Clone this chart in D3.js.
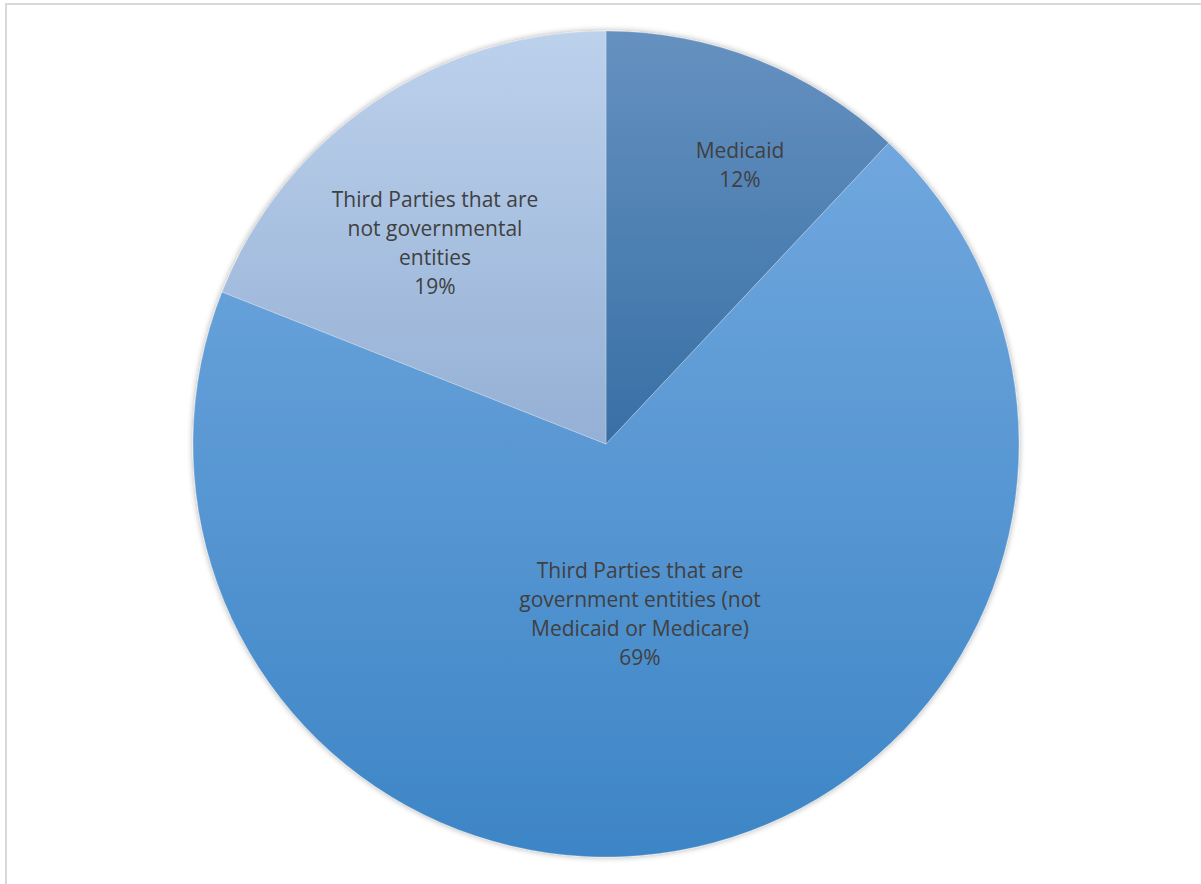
<!DOCTYPE html>
<html>
<head>
<meta charset="utf-8">
<script src="https://cdn.jsdelivr.net/npm/d3@7"></script>
<style>
  body { margin: 0; background: #fff; }
  svg { display: block; }
</style>
</head>
<body>
<div id="chart"></div>
<script>
// chart values
var labels = ['Medicaid', 'Third Parties that are government entities (not Medicaid or Medicare)', 'Third Parties that are not governmental entities'];
var values = [12, 69, 19];
var labelLines = [
  ['Medicaid', '12%'],
  ['Third Parties that are', 'government entities (not', 'Medicaid or Medicare)', '69%'],
  ['Third Parties that are', 'not governmental', 'entities', '19%']
];
var gradTop = ['#6591c0', '#70a7de', '#bcd1ec'];
var gradBottom = ['#386fa5', '#3d85c6', '#95b0d5'];
// label anchor (first line baseline) as offsets from the centre
var labelPos = [[134, -286], [34, 134], [-171, -237]];

var width = 1201, height = 884,
    cx = 606, cy = 444, radius = 413;

var svg = d3.select('#chart').append('svg')
  .attr('width', width)
  .attr('height', height);

var defs = svg.append('defs');

// soft shadow round the pie
var shadow = defs.append('filter')
  .attr('id', 'shadow')
  .attr('x', '-10%').attr('y', '-10%')
  .attr('width', '120%').attr('height', '120%');
shadow.append('feGaussianBlur').attr('in', 'SourceAlpha').attr('stdDeviation', 3);
shadow.append('feOffset').attr('dx', 0).attr('dy', 0).attr('result', 'blur');
shadow.append('feComponentTransfer').append('feFuncA').attr('type', 'linear').attr('slope', 0.35);
var merge = shadow.append('feMerge');
merge.append('feMergeNode');
merge.append('feMergeNode').attr('in', 'SourceGraphic');

values.forEach(function(v, i) {
  var g = defs.append('linearGradient')
    .attr('id', 'grad' + i)
    .attr('x1', 0).attr('y1', 0).attr('x2', 0).attr('y2', 1);
  g.append('stop').attr('offset', '0%').attr('stop-color', gradTop[i]);
  g.append('stop').attr('offset', '100%').attr('stop-color', gradBottom[i]);
});

// chart area frame
svg.append('rect')
  .attr('x', 6)
  .attr('y', 4)
  .attr('width', width + 20)
  .attr('height', height + 20)
  .attr('fill', '#fff')
  .attr('stroke', '#d9d9d9')
  .attr('stroke-width', 2);

var pie = d3.pie().sort(null).value(function(d) { return d; });
var arc = d3.arc().innerRadius(0).outerRadius(radius);

var g = svg.append('g')
  .attr('transform', 'translate(' + cx + ',' + cy + ')');

g.append('g')
  .attr('filter', 'url(#shadow)')
  .selectAll('path')
  .data(pie(values))
  .enter()
  .append('path')
  .attr('d', arc)
  .attr('fill', function(d, i) { return 'url(#grad' + i + ')'; })
  .attr('stroke', 'rgba(255,255,255,0.25)')
  .attr('stroke-width', 1);

var lineH = 29;
var texts = g.selectAll('text.label')
  .data(labelLines)
  .enter()
  .append('text')
  .attr('class', 'label')
  .attr('text-anchor', 'middle')
  .style('font-family', '"Open Sans", sans-serif')
  .style('font-size', '21px')
  .style('fill', '#404040')
  .attr('transform', function(d, i) {
    return 'translate(' + labelPos[i][0] + ',' + labelPos[i][1] + ')';
  });

texts.selectAll('tspan')
  .data(function(d) { return d; })
  .enter()
  .append('tspan')
  .attr('x', 0)
  .attr('y', function(d, j) { return j * lineH; })
  .text(function(d) { return d; });
</script>
</body>
</html>
